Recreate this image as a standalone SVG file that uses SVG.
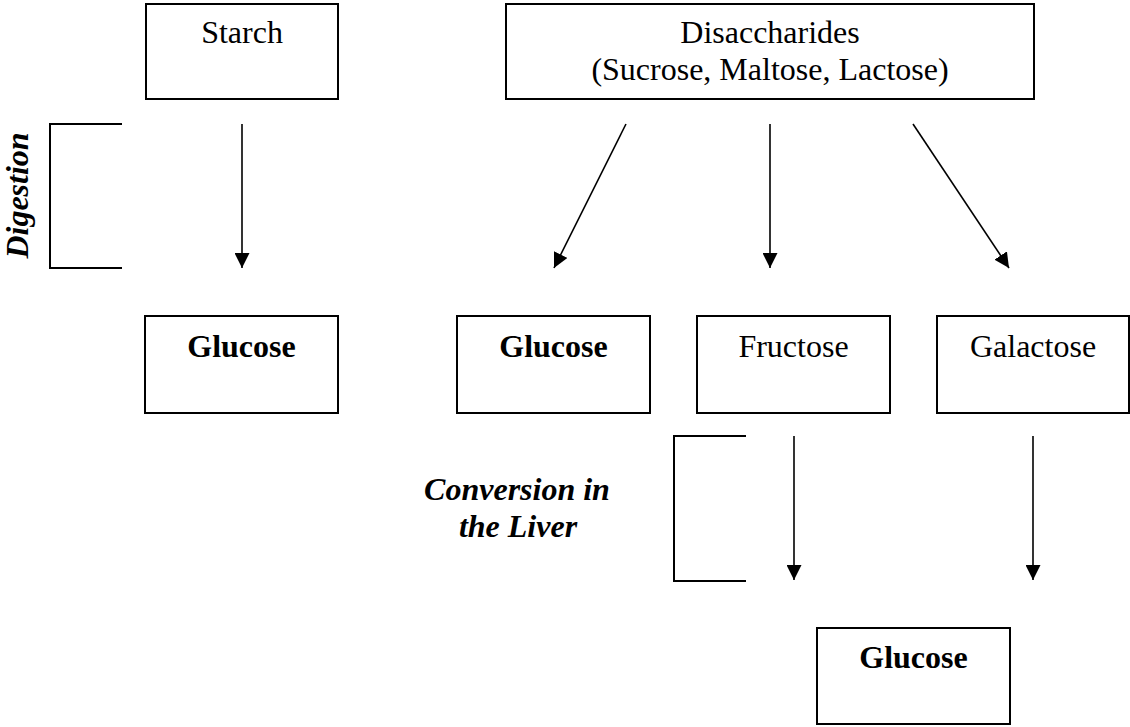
<svg xmlns="http://www.w3.org/2000/svg" width="1130" height="727" viewBox="0 0 1130 727">
<style>
  .box { fill: #ffffff; stroke: #000000; stroke-width: 2; }
  .lbl { font-family: "Liberation Serif", "Times New Roman", serif; font-size: 32px; fill: #000000; text-anchor: middle; }
  .bold { font-weight: bold; }
  .bi { font-family: "Liberation Serif", "Times New Roman", serif; font-size: 32px; font-weight: bold; font-style: italic; fill: #000000; text-anchor: middle; }
  .arrow { fill: none; stroke: #000000; stroke-width: 1.6; marker-end: url(#ah); }
  .bracket { fill: none; stroke: #000000; stroke-width: 2; }
</style>
<defs>
  <marker id="ah" viewBox="0 0 15 15" refX="15" refY="7.5" markerWidth="15" markerHeight="15" markerUnits="userSpaceOnUse" orient="auto">
    <path d="M0,0 L15,7.5 L0,15 z" fill="#000000"/>
  </marker>
</defs>
<rect width="1130" height="727" fill="#ffffff"/>

<g id="starch">
  <rect class="box" x="146" y="4" width="192" height="95"/>
  <text class="lbl" x="242" y="43">Starch</text>
</g>
<g id="disaccharides">
  <rect class="box" x="506" y="4" width="528" height="95"/>
  <text class="lbl" x="770" y="43">Disaccharides</text>
  <text class="lbl" x="770" y="80">(Sucrose, Maltose, Lactose)</text>
</g>
<g id="glucose1">
  <rect class="box" x="145" y="316" width="193" height="97"/>
  <text class="lbl bold" x="241.5" y="357">Glucose</text>
</g>
<g id="glucose2">
  <rect class="box" x="457" y="316" width="193" height="97"/>
  <text class="lbl bold" x="553.5" y="357">Glucose</text>
</g>
<g id="fructose">
  <rect class="box" x="697" y="316" width="193" height="97"/>
  <text class="lbl" x="793.5" y="357">Fructose</text>
</g>
<g id="galactose">
  <rect class="box" x="937" y="316" width="192" height="97"/>
  <text class="lbl" x="1033" y="357">Galactose</text>
</g>
<g id="glucose3">
  <rect class="box" x="817" y="628" width="193" height="96"/>
  <text class="lbl bold" x="913.5" y="668">Glucose</text>
</g>

<g id="digestion-label">
  <path class="bracket" d="M122,124 H50 V268 H122"/>
  <text class="bi" transform="translate(28,195.5) rotate(-90)" x="0" y="0">Digestion</text>
</g>
<g id="conversion-label">
  <path class="bracket" d="M746,436 H674 V581 H746"/>
  <text class="bi" x="517" y="500">Conversion in</text>
  <text class="bi" x="518" y="537">the Liver</text>
</g>

<g id="connectors">
  <line class="arrow" x1="242" y1="124" x2="242" y2="268"/>
  <line class="arrow" x1="626" y1="124" x2="554" y2="268"/>
  <line class="arrow" x1="770" y1="124" x2="770" y2="268"/>
  <line class="arrow" x1="913" y1="124" x2="1009" y2="268"/>
  <line class="arrow" x1="794" y1="436" x2="794" y2="580"/>
  <line class="arrow" x1="1033" y1="436" x2="1033" y2="580"/>
</g>
</svg>
